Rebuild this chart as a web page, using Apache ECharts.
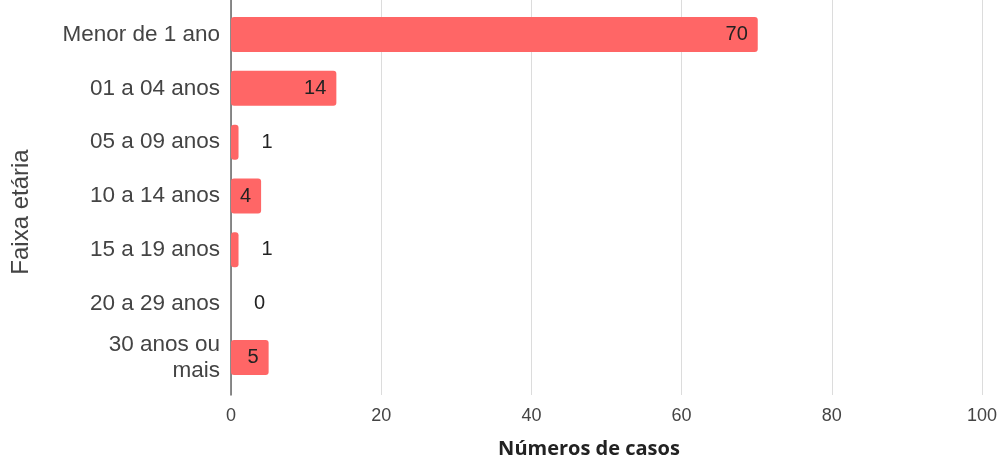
<!DOCTYPE html>
<html>
<head>
<meta charset="utf-8">
<script src="https://cdn.jsdelivr.net/npm/echarts@6/dist/echarts.min.js"></script>
<style>
  html, body { margin: 0; padding: 0; background: #fff; }
  #chart { width: 1000px; height: 459px; }
</style>
</head>
<body>
<div id="chart"></div>
<script>
// Age groups and number of cases
const categories = ['Menor de 1 ano', '01 a 04 anos', '05 a 09 anos', '10 a 14 anos', '15 a 19 anos', '20 a 29 anos', '30 anos ou\nmais'];
const cases = [70, 14, 1, 4, 1, 0, 5];
const xTicks = [0, 20, 40, 60, 80, 100];

const barColor = '#ff6666';
const textColor = '#444';
const font = '"Liberation Sans", Arial, sans-serif';

// Values too small to hold their label inside the bar get it outside
const barData = cases.map(function (v) {
  const inside = v >= 4;
  return {
    value: v,
    label: inside
      ? { position: 'insideRight', distance: 10 }
      : { position: 'right', distance: 23 }
  };
});

const chart = echarts.init(document.getElementById('chart'));
chart.setOption({
  animation: false,
  grid: [
    // frame: gridlines, baseline and tick labels
    { left: 231, right: 16.5, top: 0, bottom: 64 },
    // bars and category labels
    { left: 231, right: 16.5, top: 7.6, bottom: 74.6 }
  ],
  xAxis: [
    {
      gridIndex: 0, type: 'value', min: xTicks[0], max: xTicks[xTicks.length - 1], interval: 20,
      axisLine: { show: false }, axisTick: { show: false },
      splitLine: { lineStyle: { color: '#dcdcdc', width: 1 } },
      axisLabel: { color: textColor, fontFamily: font, fontSize: 18, margin: 12 }
    },
    {
      gridIndex: 1, type: 'value', min: xTicks[0], max: xTicks[xTicks.length - 1], show: false
    }
  ],
  yAxis: [
    {
      gridIndex: 0, type: 'value', min: 0, max: 1,
      axisLine: { show: true, lineStyle: { color: '#666', width: 1.5 } },
      axisTick: { show: false }, axisLabel: { show: false }, splitLine: { show: false }
    },
    {
      gridIndex: 1, type: 'category', data: categories, inverse: true,
      axisLine: { show: false }, axisTick: { show: false },
      axisLabel: {
        color: textColor, fontFamily: font, fontSize: 22.5, margin: 11,
        lineHeight: 26, align: 'right'
      }
    }
  ],
  graphic: [
    {
      type: 'text', x: 21, y: 212,
      rotation: Math.PI / 2,
      style: {
        text: 'Faixa etária', fill: textColor, font: '24px "Liberation Sans", Arial, sans-serif',
        textAlign: 'center', textVerticalAlign: 'middle'
      }
    },
    {
      type: 'text', x: 589, y: 449,
      style: {
        text: 'Números de casos', fill: '#222', font: 'bold 20px "Open Sans"',
        textAlign: 'center', textVerticalAlign: 'middle'
      }
    }
  ],
  series: [
    {
      type: 'bar', xAxisIndex: 1, yAxisIndex: 1,
      data: barData, barWidth: 35,
      itemStyle: { color: barColor, borderRadius: 3 },
      label: {
        show: true, color: '#222', fontFamily: font, fontSize: 20
      }
    }
  ]
});
</script>
</body>
</html>
